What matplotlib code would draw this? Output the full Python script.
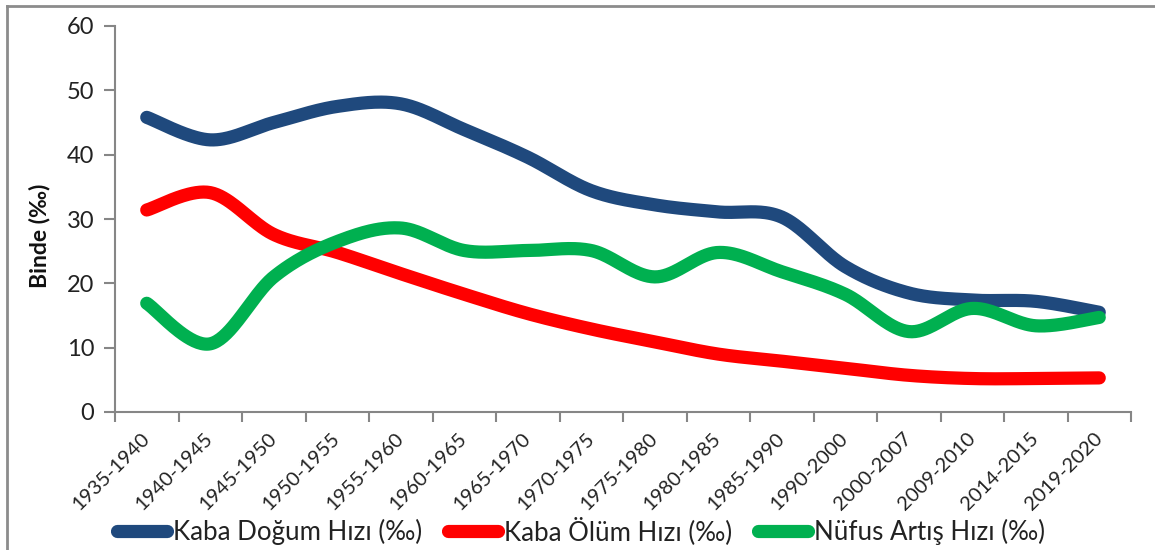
import numpy as np
import matplotlib
matplotlib.use("Agg")
import matplotlib.pyplot as plt
from matplotlib.lines import Line2D
from matplotlib.transforms import ScaledTranslation

categories = ["1935-1940", "1940-1945", "1945-1950", "1950-1955", "1955-1960",
              "1960-1965", "1965-1970", "1970-1975", "1975-1980", "1980-1985",
              "1985-1990", "1990-2000", "2000-2007", "2009-2010", "2014-2015",
              "2019-2020"]
birth_rate = [45.8, 42.3, 45.0, 47.5, 47.9, 43.9, 39.6, 34.4, 32.2, 31.1,
              30.3, 22.6, 18.5, 17.4, 17.2, 15.5]
death_rate = [31.4, 34.1, 27.6, 24.8, 21.5, 18.3, 15.3, 12.9, 10.9, 9.0,
              7.9, 6.8, 5.7, 5.2, 5.2, 5.3]
growth_rate = [16.9, 10.6, 21.0, 26.5, 28.6, 25.1, 25.1, 25.1, 21.0, 24.8,
               21.8, 18.3, 12.5, 16.1, 13.4, 14.7]
series_names = ["Kaba Doğum Hızı (‰)", "Kaba Ölüm Hızı (‰)", "Nüfus Artış Hızı (‰)"]
colors = ["#1F497D", "#FF0000", "#00B050"]
yticks = [0, 10, 20, 30, 40, 50, 60]


def smooth(xs, ys, n=40):
    xs = np.asarray(xs, float)
    ys = np.asarray(ys, float)
    P = np.column_stack([xs, ys])
    P = np.vstack([P[0], P, P[-1]])
    out = []
    t = np.linspace(0, 1, n)[:, None]
    for i in range(1, len(P) - 2):
        p0, p1, p2, p3 = P[i - 1], P[i], P[i + 1], P[i + 2]
        c1 = p1 + (p2 - p0) / 6.0
        c2 = p2 - (p3 - p1) / 6.0
        seg = ((1 - t) ** 3) * p1 + 3 * ((1 - t) ** 2) * t * c1 + 3 * (1 - t) * t ** 2 * c2 + t ** 3 * p2
        out.append(seg if i == 1 else seg[1:])
    seg = np.vstack(out)
    return seg[:, 0], seg[:, 1]


plt.rcParams['font.family'] = ['Lato', 'DejaVu Sans']
fig = plt.figure(figsize=(11.55, 5.5), dpi=100)
ax = fig.add_axes([115 / 1155, 1 - 412 / 550, (1131 - 115) / 1155, (412 - 26) / 550])

x = np.arange(len(categories))
for vals, c, name in zip([birth_rate, death_rate, growth_rate], colors, series_names):
    sx, sy = smooth(x, vals)
    ax.plot(sx, sy, color=c, lw=9.5, solid_capstyle='round', solid_joinstyle='round', label=name)

ax.set_xlim(-0.5, len(categories) - 0.5)
ax.set_ylim(0, 60)
ax.set_yticks(yticks)
ax.set_yticklabels([str(v) for v in yticks], fontsize=17, color='#222222')
ax.set_xticks(x)
ax.set_xticklabels(categories, rotation=45, ha='right', va='center', rotation_mode='anchor',
                   fontsize=14.5, color='#222222')
offset = ScaledTranslation(5 / 100, -3 / 100, fig.dpi_scale_trans)
for lab in ax.get_xticklabels():
    lab.set_transform(lab.get_transform() + offset)
ax.set_xticks(np.arange(-0.5, len(categories), 1), minor=True)
ax.tick_params(axis='x', which='major', length=0, pad=17)
ax.tick_params(axis='x', which='minor', length=7, width=1.5, color='#868686', direction='out')
ax.tick_params(axis='y', length=8, width=1.5, color='#868686', direction='out', pad=7)

for s in ['top', 'right']:
    ax.spines[s].set_visible(False)
for s in ['left', 'bottom']:
    ax.spines[s].set_color('#868686')
    ax.spines[s].set_linewidth(1.5)

fig.text(40 / 1155, 1 - 236 / 550, "Binde (‰)", rotation=90, fontsize=16.5, fontweight='bold',
         ha='center', va='center', color='#111111')

handles = [Line2D([], [], color=c, lw=9.5, solid_capstyle='round') for c in colors]
fig.legend(handles, series_names, loc='center', bbox_to_anchor=(581 / 1155, 1 - 531 / 550),
           ncol=3, frameon=False, fontsize=18.6, handlelength=1.95, handletextpad=0.22,
           columnspacing=1.0, labelcolor='#222222', borderpad=0)

fig.add_artist(Line2D([7 / 1155, 7 / 1155], [0, 1 - 6 / 550], transform=fig.transFigure,
                      color='#8c8c8c', lw=2))
fig.add_artist(Line2D([7 / 1155, 1], [1 - 6 / 550, 1 - 6 / 550], transform=fig.transFigure,
                      color='#8c8c8c', lw=2))

fig.savefig("out.png", dpi=100)
